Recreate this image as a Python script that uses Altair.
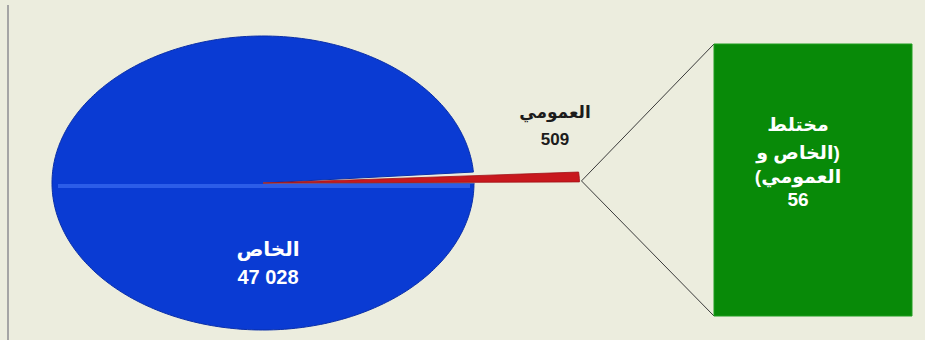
import math
import altair as alt
import pandas as pd

# ---- data ----
categories = ["الخاص", "العمومي", "مختلط (الخاص و العمومي)"]
values = [47028, 509, 56]
pie_names = ["الخاص", "العمومي"]
bar_name_lines = ["مختلط", "(الخاص و", "العمومي)"]


def fmt(v):
    return f"{v:,}".replace(",", " ")


def rtl(s):
    # right-to-left embedding so brackets sit and mirror correctly
    return "\u202B" + s + "\u202C"


# ---- layout / style (pixels) ----
W, H = 925, 340
CX, CY = 263, 183
RX, RY = 211, 147
RED_EXT_X, RED_EXT_Y = 1.5, 1.0
BAR_X0, BAR_X1, BAR_TOP, BAR_BOT = 714, 912, 44, 316
BLUE, RED, GREEN, GREY = "#0a3bd3", "#c8181d", "#088a08", "#c4c5b4"
BG = "#ecedde"

xs = alt.Scale(domain=[0, W], range=[0, W])
ys = alt.Scale(domain=[0, H], range=[0, H])

total = sum(values)
# pie order counter-clockwise from 3 o'clock: mixed (other), public, private
order = [2, 1, 0]
ext = {0: (1.0, 1.0), 1: (RED_EXT_X, RED_EXT_Y), 2: (1.0, 1.0)}
rows = []
start = 0.0
spans = {}
for i in order:
    span = values[i] / total * 360.0
    spans[i] = (start, start + span)
    a0, a1 = start, start + span
    n = max(2, int(span / 1.0)) + 1
    ex, ey = ext[i]
    rows.append({"cat": categories[i], "idx": 0, "px": CX, "py": CY})
    for j in range(n):
        a = math.radians(a0 + (a1 - a0) * j / (n - 1))
        rows.append({"cat": categories[i], "idx": j + 1,
                     "px": CX + ex * RX * math.cos(a),
                     "py": CY - ey * RY * math.sin(a)})
    rows.append({"cat": categories[i], "idx": n + 1, "px": CX, "py": CY})
    start += span
pie = pd.DataFrame(rows)


def wedge(cat, color, stroke, sw=0.6):
    return alt.Chart(pie[pie["cat"] == cat]).mark_line(
        fill=color, stroke=stroke, strokeWidth=sw, strokeJoin="round"
    ).encode(
        x=alt.X("px:Q", scale=xs, axis=None),
        y=alt.Y("py:Q", scale=ys, axis=None),
        order="idx:Q",
    )


blue = wedge(categories[0], BLUE, "#0a2fa8", 1.0)
grey = wedge(categories[2], GREY, GREY, 0.6)
red = wedge(categories[1], RED, "#a01216", 0.8)

# seam highlight across the pie
seam = alt.Chart(pd.DataFrame({"x0": [CX - RX + 6], "x1": [CX + RX - 4], "y0": [CY + 3]})).mark_rule(
    color="#3566ee", strokeWidth=4, opacity=0.8
).encode(x=alt.X("x0:Q", scale=xs, axis=None), x2="x1:Q", y=alt.Y("y0:Q", scale=ys, axis=None))

# connector lines from the exploded slice tip to the bar
a_tip = math.radians(spans[1][0])
tipx = CX + RED_EXT_X * RX * math.cos(a_tip) + 2
tipy = CY - RED_EXT_Y * RY * math.sin(a_tip) - 1
conn = alt.Chart(pd.DataFrame({
    "x0": [tipx, tipx], "y0": [tipy, tipy],
    "x1": [BAR_X0, BAR_X0], "y1": [BAR_TOP, BAR_BOT],
})).mark_rule(color="#3a3a3a", strokeWidth=1).encode(
    x=alt.X("x0:Q", scale=xs, axis=None), y=alt.Y("y0:Q", scale=ys, axis=None),
    x2="x1:Q", y2="y1:Q")

# bar (value of the mixed category)
bar_df = pd.DataFrame({"cat": [categories[2]], "value": [values[2]],
                       "x0": [BAR_X0], "x1": [BAR_X1]})
bar_scale = alt.Scale(domain=[0, values[2]], range=[BAR_BOT, BAR_TOP])
bar_shadow = alt.Chart(bar_df).mark_rect(color="#c6c7b6").encode(
    x=alt.X("x0:Q", scale=xs, axis=None), x2="x1:Q",
    y=alt.Y("value:Q", scale=bar_scale, axis=None), y2=alt.datum(0),
    xOffset=alt.value(3), yOffset=alt.value(3))
bar = alt.Chart(bar_df).mark_rect(color=GREEN, stroke="#1f9e1f", strokeWidth=1).encode(
    x=alt.X("x0:Q", scale=xs, axis=None), x2="x1:Q",
    y=alt.Y("value:Q", scale=bar_scale, axis=None), y2=alt.datum(0))

FONT = "Liberation Sans, DejaVu Sans, Arial"

# labels
lab_private = pd.DataFrame({"t": [rtl(pie_names[0]), fmt(values[0])], "px": [268, 268], "py": [250, 278]})
lab_public = pd.DataFrame({"t": [rtl(pie_names[1]), fmt(values[1])], "px": [555, 555], "py": [113, 140]})
lab_mixed = pd.DataFrame({"t": [rtl(s) for s in bar_name_lines] + [fmt(values[2])],
                          "px": [798] * 4, "py": [125, 153, 177, 200]})


def text_layer(df, color, size):
    return alt.Chart(df).mark_text(
        font=FONT, fontWeight="bold", fontSize=size, color=color,
        align="center", baseline="middle"
    ).encode(x=alt.X("px:Q", scale=xs, axis=None), y=alt.Y("py:Q", scale=ys, axis=None),
             text="t:N")


t1 = text_layer(lab_private, "white", 20)
t2 = text_layer(lab_public, "#1c1c1c", 17)
t3 = text_layer(lab_mixed, "white", 19)

border = alt.Chart(pd.DataFrame({"x0": [8], "y0": [5], "y1": [H]})).mark_rule(
    color="#a5a5a5", strokeWidth=2
).encode(x=alt.X("x0:Q", scale=xs, axis=None), y=alt.Y("y0:Q", scale=ys, axis=None), y2="y1:Q")

chart = alt.layer(
    border, blue, seam, grey, red, conn, bar_shadow, bar, t1, t2, t3
).resolve_scale(y="independent").properties(
    width=W, height=H, background=BG, padding=0, autosize="none"
).configure_view(strokeWidth=0)

chart.save("out.html", embed_options={"renderer": "svg", "actions": False})
